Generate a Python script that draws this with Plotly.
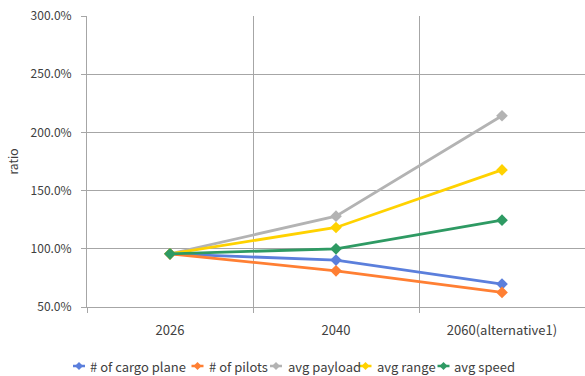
import plotly.graph_objects as go

categories = ["2026", "2040", "2060(alternative1)"]
series_names = ["# of cargo plane", "# of pilots", "avg payload", "avg range", "avg speed"]
cargo_plane = [0.957, 0.903, 0.697]
pilots = [0.957, 0.811, 0.625]
avg_payload = [0.957, 1.280, 2.143]
avg_range = [0.957, 1.183, 1.678]
avg_speed = [0.957, 1.000, 1.246]
colors = ["#5B7FDC", "#FF7F33", "#B3B3B3", "#FFD200", "#2E9A63"]

series_values = [cargo_plane, pilots, avg_payload, avg_range, avg_speed]

W, H = 585, 376
ML, MR, MT, MB = 87, 0, 16, 69
PW, PH = W - ML - MR, H - MT - MB

fig = go.Figure()
for name, vals, col in zip(series_names, series_values, colors):
    fig.add_trace(go.Scatter(
        x=categories, y=vals, name=name, mode="lines+markers",
        line=dict(color=col, width=2.8),
        marker=dict(symbol="diamond", size=9, color=col),
        showlegend=False,
    ))

grid = "#A6A6A6"
txt = "#404040"
fam = "Noto Sans CJK KR, Noto Sans, sans-serif"

# compact legend row below the plot: short line + diamond, then the label
legend_sym_x = [73, 191.5, 270, 359.5, 437.5]
legend_txt_x = [88, 206.5, 286, 375, 452]
legend_y = 366

def px_x(p):
    return (p - ML) / PW

def px_y(p):
    return (H - MB - p) / PH

shapes = []
annotations = []
for name, col, sx, tx in zip(series_names, colors, legend_sym_x, legend_txt_x):
    shapes.append(dict(type="line", xref="paper", yref="paper",
                       x0=px_x(sx), x1=px_x(sx + 12), y0=px_y(legend_y), y1=px_y(legend_y),
                       line=dict(color=col, width=2.5)))
    shapes.append(dict(type="path", xref="paper", yref="paper",
                       xsizemode="pixel", ysizemode="pixel",
                       xanchor=px_x(sx + 6), yanchor=px_y(legend_y),
                       path="M 0 -4 L 4 0 L 0 4 L -4 0 Z",
                       fillcolor=col, line=dict(color=col, width=0)))
    annotations.append(dict(text=name, xref="paper", yref="paper",
                            x=px_x(tx), y=px_y(legend_y), xanchor="left", yanchor="middle",
                            showarrow=False, font=dict(family=fam, size=13, color=txt)))

fig.update_layout(
    width=W, height=H,
    margin=dict(l=ML, r=MR, t=MT, b=MB),
    paper_bgcolor="white", plot_bgcolor="white",
    font=dict(family=fam, size=12, color=txt),
    showlegend=False,
    shapes=shapes,
    annotations=annotations,
    xaxis=dict(
        type="category", range=[-0.5, 2.5], tickson="boundaries",
        showgrid=True, gridcolor=grid, gridwidth=1,
        showline=True, linecolor=grid, linewidth=1,
        ticks="outside", ticklen=5, tickcolor=grid,
        tickfont=dict(size=13, color=txt),
        ticklabelstandoff=11,
        zeroline=False,
    ),
    yaxis=dict(
        range=[0.5, 3.0], dtick=0.5, tick0=0.5, tickformat=".1%",
        showgrid=True, gridcolor=grid, gridwidth=1,
        showline=True, linecolor=grid, linewidth=1,
        ticks="outside", ticklen=5, tickcolor=grid,
        tickfont=dict(size=12, color=txt),
        ticklabelstandoff=7,
        title=dict(text="ratio", font=dict(size=12, color=txt), standoff=9),
        zeroline=False,
    ),
)

fig.write_html("out.html")
